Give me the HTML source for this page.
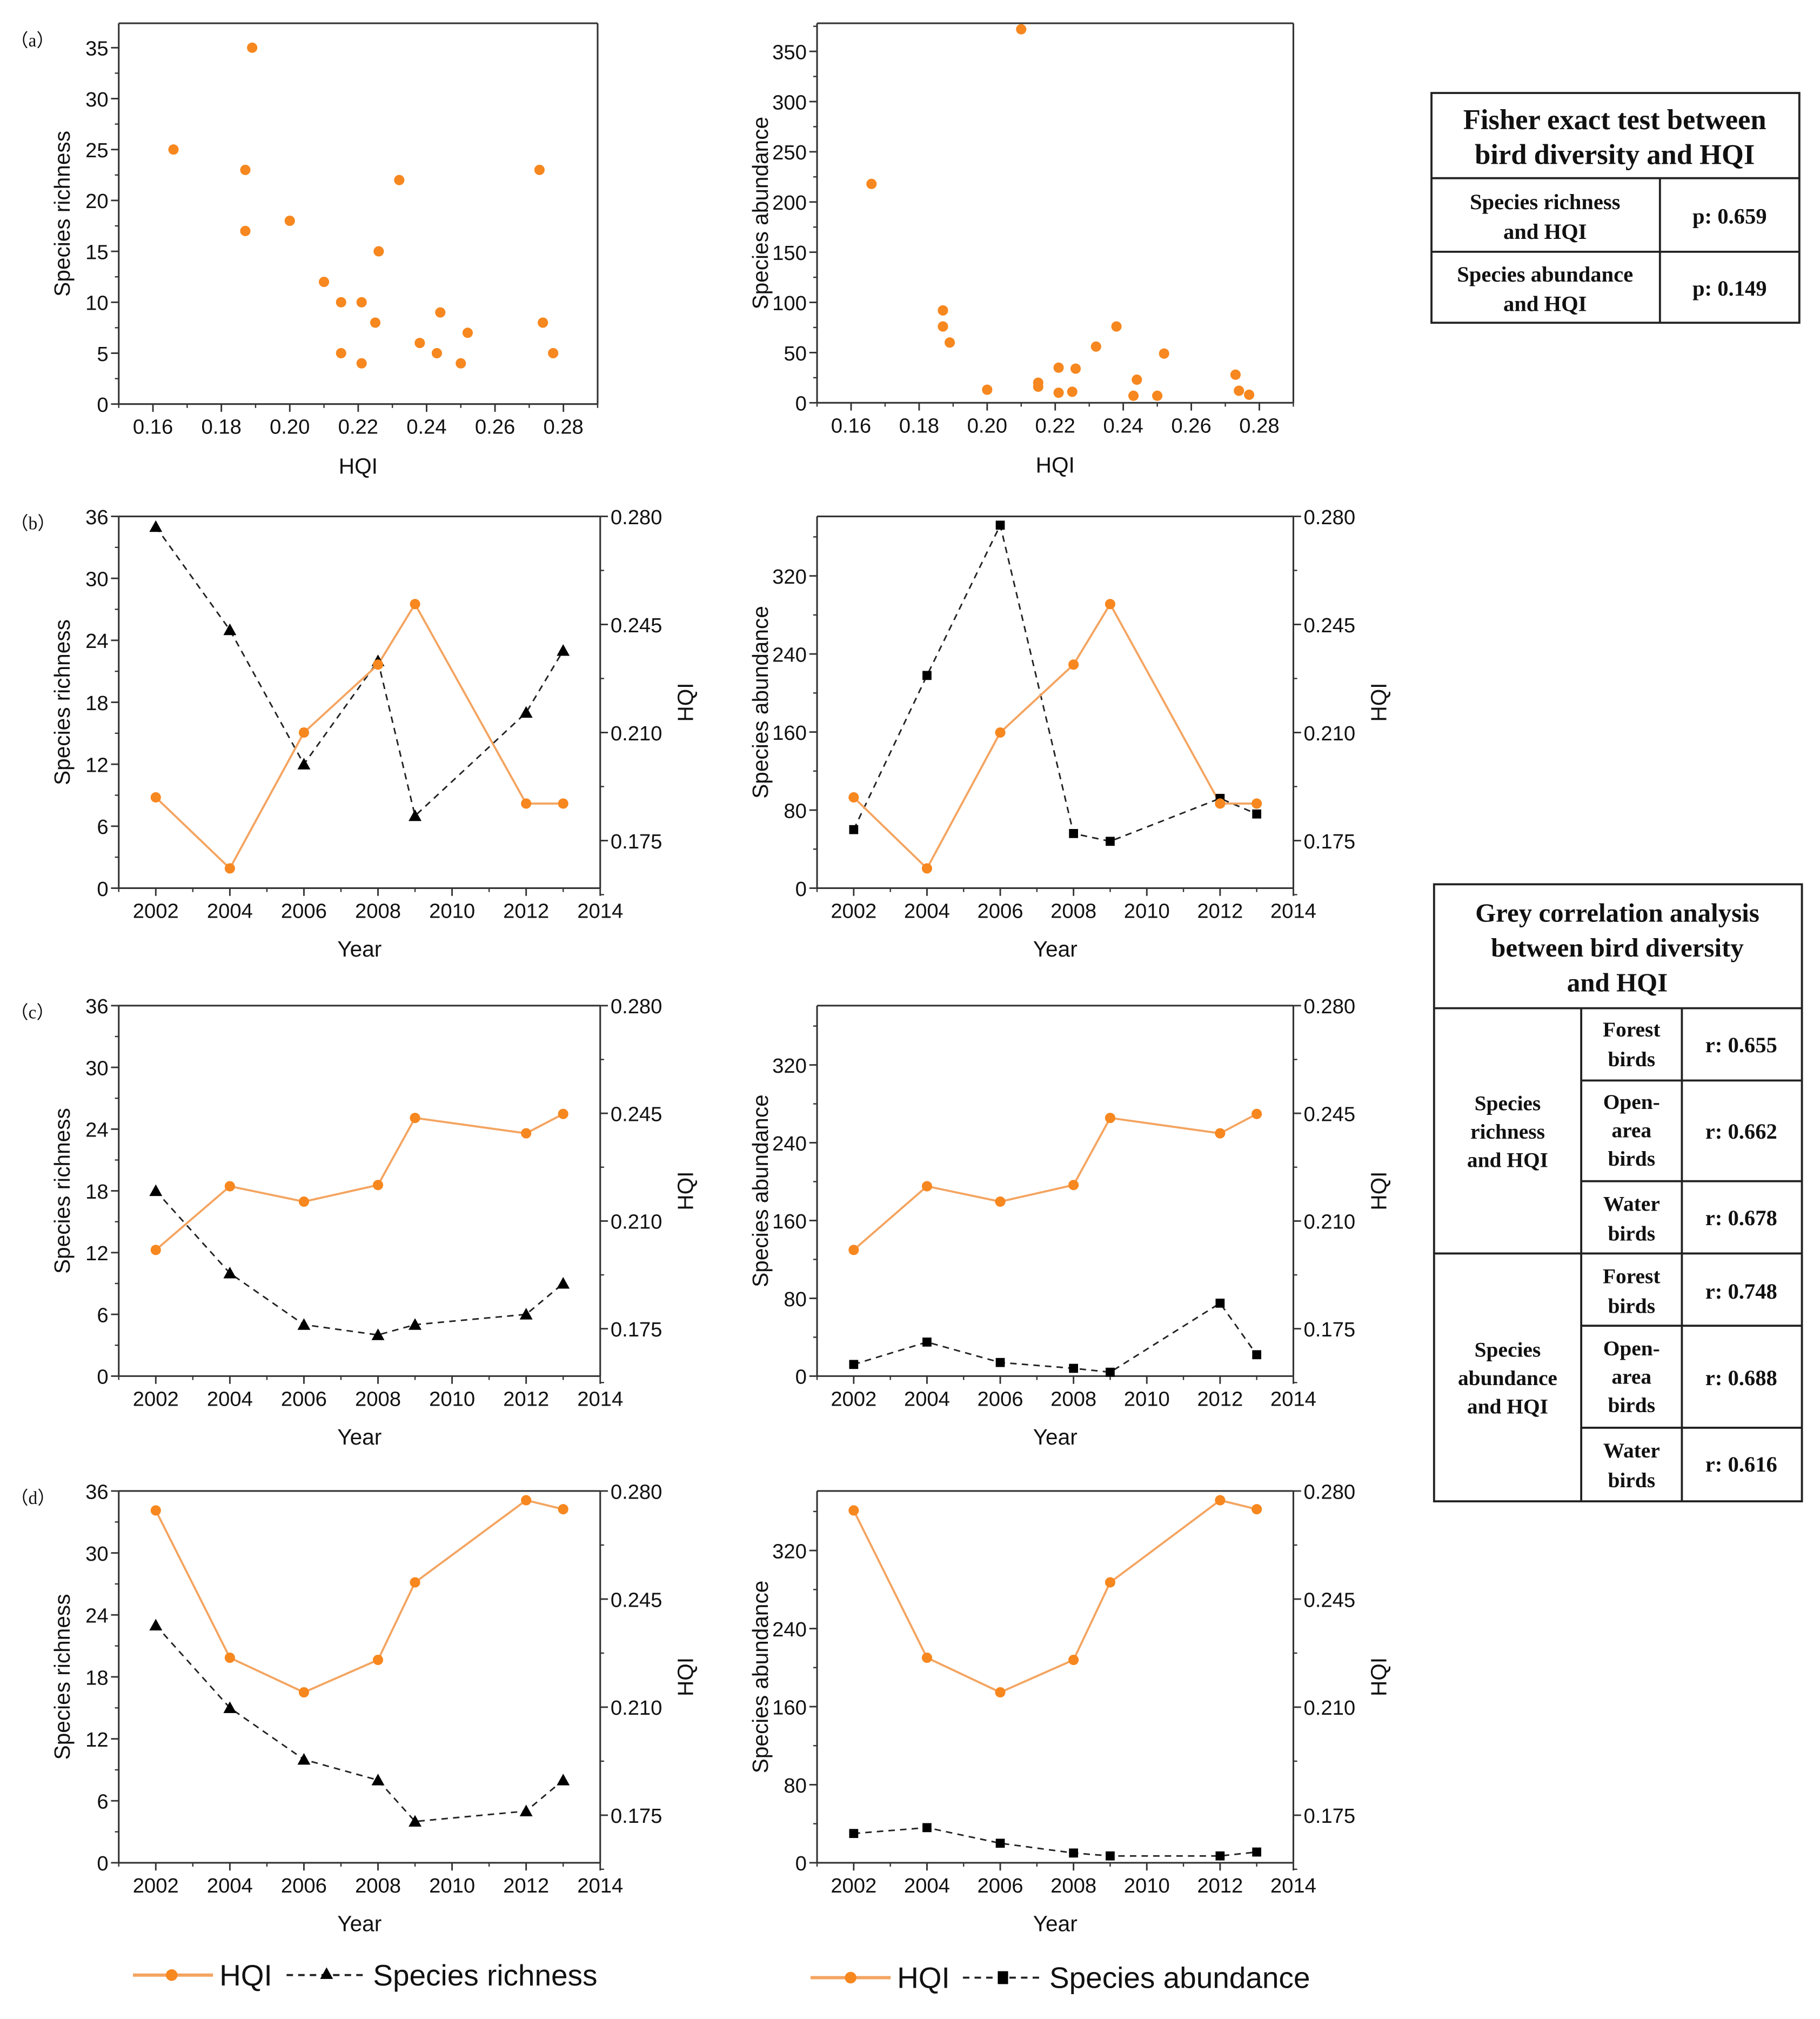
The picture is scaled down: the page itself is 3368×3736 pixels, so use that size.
<!DOCTYPE html>
<html><head><meta charset="utf-8">
<style>
html,body{margin:0;padding:0;background:#fff;}
svg{display:block;}
.tk{font-family:"Liberation Sans",sans-serif;font-size:16px;fill:#111;}
.tt{font-family:"Liberation Sans",sans-serif;font-size:17px;fill:#111;}
.pl{font-family:"Liberation Serif",serif;font-size:14px;fill:#111;}
.tb{font-family:"Liberation Serif",serif;font-weight:bold;fill:#111;}
.lg{font-family:"Liberation Sans",sans-serif;font-size:23px;fill:#111;}
</style></head>
<body>
<svg id="fig" xmlns="http://www.w3.org/2000/svg" width="3368" height="3736" viewBox="0 0 1410 1564">
<rect x="0" y="0" width="1410" height="1564" fill="#fff"/>
<g id="charts"></g>
<g id="tables">
 <g fill="none" stroke="#222" stroke-width="1.6">
  <rect x="1109" y="72" width="285" height="178"/>
  <line x1="1109" y1="138" x2="1394" y2="138"/>
  <line x1="1109" y1="195" x2="1394" y2="195"/>
  <line x1="1286" y1="138" x2="1286" y2="250"/>
 </g>
 <text class="tb" font-size="22" x="1251" y="100" text-anchor="middle">Fisher exact test between</text>
 <text class="tb" font-size="22" x="1251" y="127" text-anchor="middle">bird diversity and HQI</text>
 <text class="tb" font-size="17" x="1197" y="162" text-anchor="middle">Species richness</text>
 <text class="tb" font-size="17" x="1197" y="185" text-anchor="middle">and HQI</text>
 <text class="tb" font-size="17" x="1340" y="173" text-anchor="middle">p:  0.659</text>
 <text class="tb" font-size="17" x="1197" y="218" text-anchor="middle">Species abundance</text>
 <text class="tb" font-size="17" x="1197" y="241" text-anchor="middle">and HQI</text>
 <text class="tb" font-size="17" x="1340" y="229" text-anchor="middle">p:  0.149</text>

 <g fill="none" stroke="#222" stroke-width="1.6">
  <rect x="1111" y="685" width="285" height="478"/>
  <line x1="1111" y1="781" x2="1396" y2="781"/>
  <line x1="1111" y1="971" x2="1396" y2="971"/>
  <line x1="1225" y1="781" x2="1225" y2="1163"/>
  <line x1="1303" y1="781" x2="1303" y2="1163"/>
  <line x1="1225" y1="837" x2="1396" y2="837"/>
  <line x1="1225" y1="915" x2="1396" y2="915"/>
  <line x1="1225" y1="1027" x2="1396" y2="1027"/>
  <line x1="1225" y1="1106" x2="1396" y2="1106"/>
 </g>
 <g class="tb" font-size="20.5" text-anchor="middle">
  <text x="1253" y="714">Grey correlation analysis</text>
  <text x="1253" y="741">between bird diversity</text>
  <text x="1253" y="768">and HQI</text>
 </g>
 <g class="tb" font-size="16.5" text-anchor="middle">
  <text x="1168" y="860">Species</text><text x="1168" y="882">richness</text><text x="1168" y="904">and HQI</text>
  <text x="1168" y="1051">Species</text><text x="1168" y="1073">abundance</text><text x="1168" y="1095">and HQI</text>
  <text x="1264" y="803">Forest</text><text x="1264" y="826">birds</text>
  <text x="1264" y="859">Open-</text><text x="1264" y="881">area</text><text x="1264" y="903">birds</text>
  <text x="1264" y="938">Water</text><text x="1264" y="961">birds</text>
  <text x="1264" y="994">Forest</text><text x="1264" y="1017">birds</text>
  <text x="1264" y="1050">Open-</text><text x="1264" y="1072">area</text><text x="1264" y="1094">birds</text>
  <text x="1264" y="1129">Water</text><text x="1264" y="1152">birds</text>
 </g>
 <g class="tb" font-size="17" text-anchor="middle">
  <text x="1349" y="815">r:  0.655</text>
  <text x="1349" y="882">r:  0.662</text>
  <text x="1349" y="949">r:  0.678</text>
  <text x="1349" y="1006">r:  0.748</text>
  <text x="1349" y="1073">r:  0.688</text>
  <text x="1349" y="1140">r:  0.616</text>
 </g>
</g>
<g>
 <line x1="103" y1="1530" x2="165" y2="1530" stroke="#f4a460" stroke-width="2.5"/>
 <circle cx="133" cy="1530" r="4.5" fill="#f7871f"/>
 <text class="lg" x="170" y="1538">HQI</text>
 <line x1="222" y1="1530" x2="283" y2="1530" stroke="#222" stroke-width="1.6" stroke-dasharray="5,4"/>
 <path d="M253,1524 L258,1533 L248,1533 Z" fill="#000"/>
 <text class="lg" x="289" y="1538">Species richness</text>
</g>
<g>
 <line x1="628" y1="1532" x2="690" y2="1532" stroke="#f4a460" stroke-width="2.5"/>
 <circle cx="659" cy="1532" r="4.5" fill="#f7871f"/>
 <text class="lg" x="695" y="1540">HQI</text>
 <line x1="746" y1="1532" x2="806" y2="1532" stroke="#222" stroke-width="1.6" stroke-dasharray="5,4"/>
 <rect x="773" y="1527" width="8" height="10" fill="#000"/>
 <text class="lg" x="813" y="1540">Species abundance</text>
</g>
</svg>
<script>
// ---- data ----
const scatterHQI = [0.166,0.187,0.187,0.189,0.200,0.210,0.215,0.215,0.221,0.221,0.225,0.226,0.232,0.238,0.243,0.244,0.250,0.252,0.273,0.274,0.277];
const scatterRichness = [25,23,17,35,18,12,10,5,10,4,8,15,22,6,5,9,4,7,23,8,5];
const scatterAbundHQI = [0.166,0.187,0.187,0.189,0.200,0.210,0.215,0.215,0.221,0.221,0.225,0.226,0.232,0.238,0.243,0.244,0.250,0.252,0.273,0.274,0.277];
const scatterAbundance = [218,92,76,60,13,372,20,16,35,10,11,34,56,76,7,23,7,49,28,12,8];
const years = [2002,2004,2006,2008,2009,2012,2013];
const hqiB = [0.189,0.166,0.210,0.232,0.2516,0.187,0.187];
const hqiC = [0.2006,0.2213,0.2163,0.2217,0.2435,0.2385,0.2448];
const hqiD = [0.2737,0.226,0.2148,0.2253,0.2504,0.277,0.2741];
const richB = [35,25,12,22,7,17,23];
const richC = [18,10,5,4,5,6,9];
const richD = [23,15,10,8,4,5,8];
const abundB = [60,218,372,56,48,92,76];
const abundC = [12,35,14,8,4,75,22];
const abundD = [30,36,20,10,7,7,11];
const scatterXTicks = [0.16,0.18,0.20,0.22,0.24,0.26,0.28];
const richScatterTicks = [0,5,10,15,20,25,30,35];
const abundScatterTicks = [0,50,100,150,200,250,300,350];
const yearTicks = [2002,2004,2006,2008,2010,2012,2014];
const richTicks = [0,6,12,18,24,30,36];
const abundTicks = [0,80,160,240,320];
const hqiTicks = [0.175,0.210,0.245,0.280];

const NS='http://www.w3.org/2000/svg';
const root=document.getElementById('charts');
function mk(tag,attrs,parent){const e=document.createElementNS(NS,tag);for(const k in attrs)e.setAttribute(k,attrs[k]);(parent||root).appendChild(e);return e;}
function txt(s,attrs,parent){const e=mk('text',attrs,parent);e.textContent=s;return e;}
const ORANGE='#f7871f', OLINE='#f4a460';

function frame(g,b,rightAxis){
  mk('line',{x1:b.x0,y1:b.y0,x2:b.x1,y2:b.y0,stroke:'#333','stroke-width':1.3},g);
  if(!rightAxis) mk('line',{x1:b.x1,y1:b.y0,x2:b.x1,y2:b.y1,stroke:'#333','stroke-width':1.3},g);
  mk('line',{x1:b.x0,y1:b.y0,x2:b.x0,y2:b.y1,stroke:'#333','stroke-width':1.3},g);
  mk('line',{x1:b.x0,y1:b.y1,x2:b.x1,y2:b.y1,stroke:'#333','stroke-width':1.3},g);
}
function leftAxis(g,b,ticks,minorStep,ymin,ymax,fmt){
  const sy=v=>b.y1-(v-ymin)/(ymax-ymin)*(b.y1-b.y0);
  for(let v=ymin;v<=ymax+1e-9;v+=minorStep){mk('line',{x1:b.x0-3,y1:sy(v),x2:b.x0,y2:sy(v),stroke:'#333','stroke-width':1},g);}
  ticks.forEach(v=>{
    mk('line',{x1:b.x0-6,y1:sy(v),x2:b.x0,y2:sy(v),stroke:'#333','stroke-width':1.2},g);
    const t=txt(fmt(v),{class:'tk',x:b.x0-8,y:sy(v)+6,'text-anchor':'end'},g);
    
    
  });
  return sy;
}
function bottomAxis(g,b,ticks,minorStep,xmin,xmax,fmt){
  const sx=v=>b.x0+(v-xmin)/(xmax-xmin)*(b.x1-b.x0);
  for(let v=xmin;v<=xmax+1e-9;v+=minorStep){mk('line',{x1:sx(v),y1:b.y1,x2:sx(v),y2:b.y1+3,stroke:'#333','stroke-width':1},g);}
  ticks.forEach(v=>{
    mk('line',{x1:sx(v),y1:b.y1,x2:sx(v),y2:b.y1+6,stroke:'#333','stroke-width':1.2},g);
    const t=txt(fmt(v),{class:'tk',x:sx(v),y:b.y1+23,'text-anchor':'middle'},g);
    
    
  });
  return sx;
}
function yTitle(g,s,x,cy){
  const t=txt(s,{class:'tt',x:x,y:cy,'text-anchor':'middle',transform:`rotate(-90 ${x} ${cy})`},g);
  
  
}
function xTitle(g,s,cx,y){
  const t=txt(s,{class:'tt',x:cx,y:y,'text-anchor':'middle'},g);
  
  
}
function panelLabel(s,y){
  const t=txt(s,{class:'pl',x:8,y:y});
  
  
}

function scatter(name,b,xs,ys,ymax,yticks,minor,title){
  const g=mk('g',{});
  
  
  frame(g,b,false);
  const sy=leftAxis(g,b,yticks,minor,0,ymax,v=>String(v));
  const sx=bottomAxis(g,b,scatterXTicks,0.01,0.15,0.29,v=>v.toFixed(2));
  yTitle(g,title,b.x0-38,(b.y0+b.y1)/2);
  xTitle(g,'HQI',(b.x0+b.x1)/2,b.y1+54);
  xs.forEach((x,i)=>{
    const c=mk('circle',{cx:sx(x),cy:sy(ys[i]),r:4,fill:ORANGE},g);
    
    
  });
}

function yearPanel(name,b,hqi,vals,ymax,yticks,minor,title,marker){
  const g=mk('g',{});
  
  
  frame(g,b,true);
  const sy=leftAxis(g,b,yticks,minor,0,ymax,v=>String(v));
  const sx=bottomAxis(g,b,yearTicks,1,2001,2014,v=>String(v));
  const hmin=0.1596,hmax=0.280;
  const sh=v=>b.y1-(v-hmin)/(hmax-hmin)*(b.y1-b.y0);
  mk('line',{x1:b.x1,y1:b.y0,x2:b.x1,y2:b.y1,stroke:'#333','stroke-width':1.3},g);
  for(let v=0.175-0.0175;v<=hmax+1e-9;v+=0.0175){mk('line',{x1:b.x1,y1:sh(v),x2:b.x1+3,y2:sh(v),stroke:'#333','stroke-width':1},g);}
  hqiTicks.forEach(v=>{
    mk('line',{x1:b.x1,y1:sh(v),x2:b.x1+6,y2:sh(v),stroke:'#333','stroke-width':1.2},g);
    const t=txt(v.toFixed(3),{class:'tk',x:b.x1+8,y:sh(v)+6},g);
    
    
  });
  const rx=b.x1+72, ry=(b.y0+b.y1)/2;
  const rt=txt('HQI',{class:'tt',x:rx,y:ry,'text-anchor':'middle',transform:`rotate(-90 ${rx} ${ry})`},g);
  
  
  yTitle(g,title,b.x0-38,ry);
  xTitle(g,'Year',(b.x0+b.x1)/2,b.y1+53);
  const pb=mk('polyline',{points:years.map((y,i)=>sx(y)+','+sy(vals[i])).join(' '),fill:'none',stroke:'#222','stroke-width':1.2,'stroke-dasharray':'5,4'},g);
  
  
  const po=mk('polyline',{points:years.map((y,i)=>sx(y)+','+sh(hqi[i])).join(' '),fill:'none',stroke:OLINE,'stroke-width':1.6},g);
  
  
  years.forEach((y,i)=>{
    const x=sx(y),yy=sy(vals[i]);
    let m;
    if(marker==='tri') m=mk('path',{d:`M${x},${yy-5} L${x+5},${yy+4} L${x-5},${yy+4} Z`,fill:'#000'},g);
    else m=mk('rect',{x:x-3.5,y:yy-3.5,width:7,height:7,fill:'#000'},g);
    
    
    const c=mk('circle',{cx:x,cy:sh(hqi[i]),r:4,fill:ORANGE},g);
    
    
  });
}

panelLabel('（a）',36);
scatter('scatter-richness',{x0:92,x1:463,y0:18,y1:313},scatterHQI,scatterRichness,37.4,richScatterTicks,2.5,'Species richness');
scatter('scatter-abundance',{x0:633,x1:1002,y0:18,y1:312},scatterAbundHQI,scatterAbundance,378,abundScatterTicks,25,'Species abundance');

const rows=[['b',400,688,hqiB,richB,abundB],['c',779,1066,hqiC,richC,abundC],['d',1155,1443,hqiD,richD,abundD]];
rows.forEach(r=>{
  panelLabel('（'+r[0]+'）',r[1]+10);
  yearPanel('richness-panel-'+r[0],{x0:92,x1:465,y0:r[1],y1:r[2]},r[3],r[4],36,richTicks,3,'Species richness','tri');
  yearPanel('abundance-panel-'+r[0],{x0:633,x1:1002,y0:r[1],y1:r[2]},r[3],r[5],381,abundTicks,40,'Species abundance','sq');
});
</script>
</body></html>
